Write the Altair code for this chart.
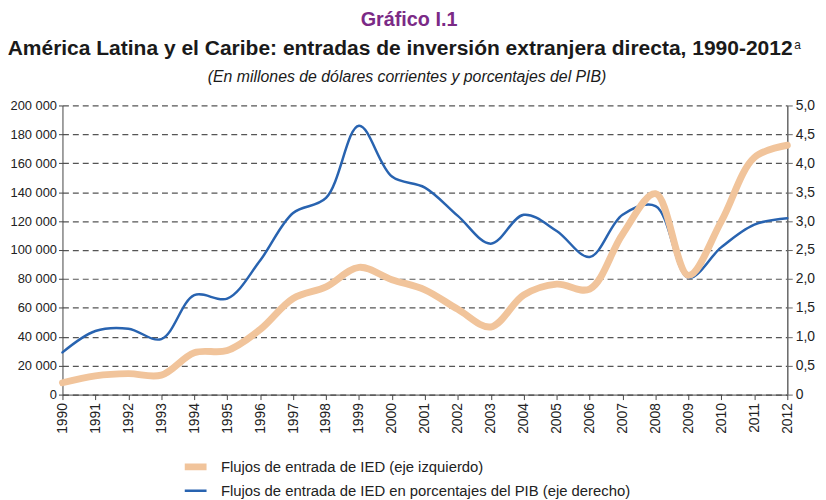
import altair as alt
import pandas as pd

years = list(range(1990, 2013))
ied_flows = [8200, 13000, 14500, 13500, 29000, 30500, 45000, 66500, 74500, 88000,
             79500, 72500, 59000, 46800, 68900, 76400, 73000, 111000, 139000, 82500,
             120000, 164000, 172500]
ied_pct_pib = [0.73, 1.10, 1.14, 0.96, 1.72, 1.66, 2.32, 3.14, 3.40, 4.65,
               3.77, 3.58, 3.09, 2.61, 3.11, 2.83, 2.38, 3.11, 3.26, 2.02,
               2.55, 2.94, 3.05]
series_names = ["Flujos de entrada de IED (eje izquierdo)",
                "Flujos de entrada de IED en porcentajes del PIB (eje derecho)"]
series_colors = ["#F1C49B", "#2863B0"]
series_widths = [7, 2.5]

title_top = ["Gráfico I.1"]
title_main = ["América Latina y el Caribe: entradas de inversión extranjera directa, 1990-2012"]
title_note = ["a"]
title_sub = ["(En millones de dólares corrientes y porcentajes del PIB)"]

rows = []
for y, v in zip(years, ied_flows):
    rows.append({"year": y, "value": v, "series": series_names[0]})
for y, v in zip(years, ied_pct_pib):
    rows.append({"year": y, "value": v, "series": series_names[1]})
df = pd.DataFrame(rows)

FONT = "Liberation Sans"

legend_cfg = dict(title=None, orient="none", legendX=120, legendY=355,
                  symbolType="stroke", symbolSize=484, clipHeight=20,
                  labelFont=FONT, labelFontSize=15, labelColor="#222",
                  labelOffset=11, rowPadding=4, labelLimit=600)

color_enc = alt.Color("series:N",
                      scale=alt.Scale(domain=series_names, range=series_colors),
                      legend=alt.Legend(**legend_cfg))
width_enc = alt.StrokeWidth("series:N",
                            scale=alt.Scale(domain=series_names, range=series_widths),
                            legend=alt.Legend(**legend_cfg))

x_enc = alt.X("year:Q", scale=alt.Scale(domain=[1990, 2012], nice=False, zero=False),
              axis=alt.Axis(title=None, values=years, format="d", labelAngle=-90,
                            labelFont=FONT, labelFontSize=14, labelColor="#222",
                            domainColor="#444", tickColor="#444", tickSize=5,
                            grid=False, labelPadding=3))

base = alt.Chart(df)

left = base.transform_filter(alt.datum.series == series_names[0]).mark_line(
    interpolate="catmull-rom", strokeCap="round", strokeJoin="round").encode(
    x=x_enc,
    y=alt.Y("value:Q", scale=alt.Scale(domain=[0, 200000], nice=False),
            axis=alt.Axis(title=None, orient="left", values=list(range(0, 200001, 20000)),
                          labelExpr="replace(format(datum.value, ',d'), ',', ' ')",
                          labelFont=FONT, labelFontSize=13, labelColor="#222",
                          domainColor="#444", tickColor="#444", tickSize=4, labelPadding=2,
                          grid=True, gridDash=[6, 4], gridColor="#555", gridWidth=1.2)),
    color=color_enc,
    strokeWidth=width_enc,
)

right = base.transform_filter(alt.datum.series == series_names[1]).mark_line(
    interpolate="catmull-rom", strokeCap="round", strokeJoin="round").encode(
    x=x_enc,
    y=alt.Y("value:Q", scale=alt.Scale(domain=[0, 5], nice=False),
            axis=alt.Axis(title=None, orient="right", values=[0, 0.5, 1, 1.5, 2, 2.5, 3, 3.5, 4, 4.5, 5],
                          labelExpr="datum.value == 0 ? '0' : replace(format(datum.value, '.1f'), '.', ',')",
                          labelFont=FONT, labelFontSize=14, labelColor="#222",
                          domainColor="#666", domainWidth=1.5, tickColor="#666", tickSize=5,
                          labelPadding=3, grid=False)),
    color=color_enc,
    strokeWidth=width_enc,
)

t1 = alt.Chart(pd.DataFrame({"t": title_top})).mark_text(
    font=FONT, fontSize=20, fontWeight="bold", color="#7B2A86", align="center", baseline="alphabetic"
).encode(text="t:N", x=alt.value(350), y=alt.value(-80))
t2 = alt.Chart(pd.DataFrame({"t": title_main})).mark_text(
    font=FONT, fontSize=21.2, fontWeight="bold", color="#1a1a1a", align="center", baseline="alphabetic"
).encode(text="t:N", x=alt.value(341), y=alt.value(-51))
t2a = alt.Chart(pd.DataFrame({"t": title_note})).mark_text(
    font=FONT, fontSize=12, color="#1a1a1a", align="left", baseline="alphabetic"
).encode(text="t:N", x=alt.value(739), y=alt.value(-57))
t3 = alt.Chart(pd.DataFrame({"t": title_sub})).mark_text(
    font=FONT, fontSize=16, fontStyle="italic", color="#1a1a1a", align="center", baseline="alphabetic"
).encode(text="t:N", x=alt.value(348), y=alt.value(-24))

chart = alt.layer(right, left, t1, t2, t2a, t3).resolve_scale(y="independent").properties(
    width=732, height=292,
    padding={"left": 55, "top": 96, "right": 31, "bottom": 104},
    autosize=alt.AutoSizeParams(type="none"),
).configure_view(stroke=None)

chart.save("out.html", embed_options={"renderer": "svg", "actions": False})
